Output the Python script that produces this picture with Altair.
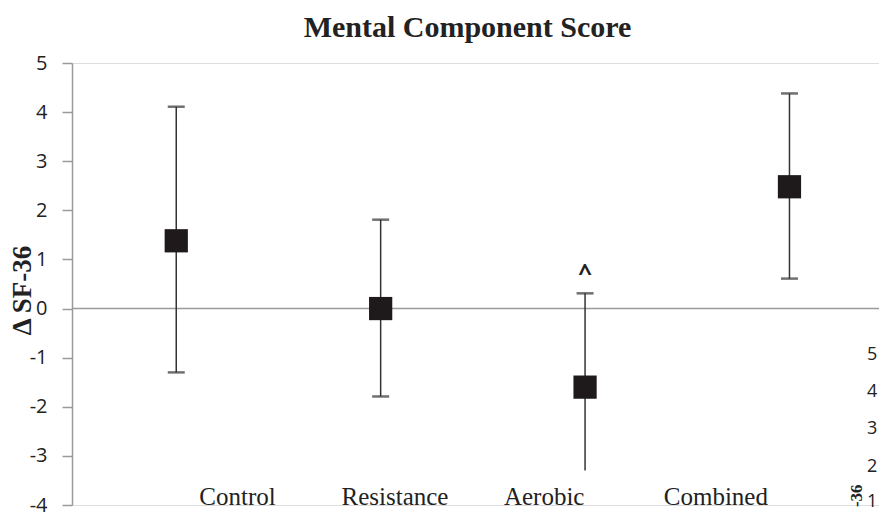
import altair as alt
import pandas as pd

# ---- data ----
categories = ["Control", "Resistance", "Aerobic", "Combined"]
positions = [1, 2, 3, 4]
means = [1.38, 0.0, -1.6, 2.48]
uppers = [4.11, 1.81, 0.31, 4.38]
lowers = [-1.30, -1.79, -3.30, 0.61]
lower_capped = [True, True, False, True]

label_positions = [1.30, 2.07, 2.80, 3.64]
label_level = -3.83

y_ticks = [-4, -3, -2, -1, 0, 1, 2, 3, 4, 5]

marker_text = ["^"]
marker_pos = [3.0]
marker_level = [0.70]

side_text = ["5", "4", "3", "2", "1"]
side_pos = 4.405
side_levels = [-0.94, -1.69, -2.46, -3.22, -3.93]

frag_text = ["-36"]
frag_pos = [4.33]
frag_level = [-3.58]

# ---- tables ----
df = pd.DataFrame({"cat": categories, "x": positions, "mean": means,
                   "hi": uppers, "lo": lowers, "locap": lower_capped})
labels_df = pd.DataFrame({"label": categories, "x": label_positions,
                          "y": [label_level] * len(categories)})
marker_df = pd.DataFrame({"t": marker_text, "x": marker_pos, "y": marker_level})
side_df = pd.DataFrame({"t": side_text, "x": [side_pos] * len(side_text), "y": side_levels})
frag_df = pd.DataFrame({"t": frag_text, "x": frag_pos, "y": frag_level})

W, H = 807, 442
xscale = alt.Scale(domain=[0.49, 4.438], zero=False, nice=False)
yscale = alt.Scale(domain=[-4, 5], nice=False, zero=False)

yaxis = alt.Axis(values=y_ticks, labelExpr="'' + datum.value", grid=False,
                 domainColor="#9a9a9a", domainWidth=1.5,
                 tickColor="#9a9a9a", tickSize=10, tickWidth=1.5,
                 labelFont="Open Sans", labelFontSize=20, labelColor="#222222",
                 labelPadding=15,
                 title="Δ SF-36", titleFont="Liberation Serif", titleFontSize=27,
                 titleFontWeight="bold", titleColor="#222222",
                 titleAngle=270, titleX=-50, titleY=227,
                 titleAlign="center", titleBaseline="middle")

base = alt.Chart(df)

zero_line = alt.Chart(pd.DataFrame({"z": [0]})).mark_rule(
    color="#9a9a9a", strokeWidth=1.5).encode(
    x=alt.value(0), x2=alt.value(W),
    y=alt.Y("z:Q", scale=yscale, axis=yaxis))

bars = base.mark_rule(color="#333333", strokeWidth=1.5).encode(
    x=alt.X("x:Q", scale=xscale, axis=None),
    y=alt.Y("lo:Q", scale=yscale),
    y2="hi:Q")

cap_hi = base.mark_tick(color="#333333", size=17, thickness=2.5, orient="horizontal").encode(
    x=alt.X("x:Q", scale=xscale), y=alt.Y("hi:Q", scale=yscale))

cap_lo = base.transform_filter("datum.locap").mark_tick(
    color="#333333", size=17, thickness=2.5, orient="horizontal").encode(
    x=alt.X("x:Q", scale=xscale), y=alt.Y("lo:Q", scale=yscale))

points = base.mark_square(color="#1e1a1b", size=540, opacity=1).encode(
    x=alt.X("x:Q", scale=xscale), y=alt.Y("mean:Q", scale=yscale))

labels = alt.Chart(labels_df).mark_text(
    font="Liberation Serif", fontSize=25, color="#222222",
    align="center", baseline="middle").encode(
    x=alt.X("x:Q", scale=xscale), y=alt.Y("y:Q", scale=yscale), text="label:N")

marker = alt.Chart(marker_df).mark_text(
    font="Open Sans", fontSize=24, fontWeight="bold", color="#222222",
    align="center", baseline="middle").encode(
    x=alt.X("x:Q", scale=xscale), y=alt.Y("y:Q", scale=yscale), text="t:N")

side = alt.Chart(side_df).mark_text(
    font="Open Sans", fontSize=18, color="#222222",
    align="center", baseline="middle").encode(
    x=alt.X("x:Q", scale=xscale), y=alt.Y("y:Q", scale=yscale), text="t:N")

frag = alt.Chart(frag_df).mark_text(
    font="Liberation Serif", fontSize=17, fontWeight="bold", color="#222222",
    align="right", baseline="middle", angle=270).encode(
    x=alt.X("x:Q", scale=xscale), y=alt.Y("y:Q", scale=yscale), text="t:N")

chart = alt.layer(zero_line, bars, cap_hi, cap_lo, points, labels, marker, side, frag).properties(
    width=W, height=H,
    autosize=alt.AutoSizeParams(type="none"),
    padding={"left": 64, "top": 55, "right": 0, "bottom": 14},
    title=alt.TitleParams("Mental Component Score", font="Liberation Serif",
                          fontSize=30, fontWeight="bold", color="#222222",
                          anchor="middle", dx=-8, offset=10),
).configure_view(stroke=None).configure(background="white")

chart.save("out.html", embed_options={"renderer": "svg", "actions": False})
